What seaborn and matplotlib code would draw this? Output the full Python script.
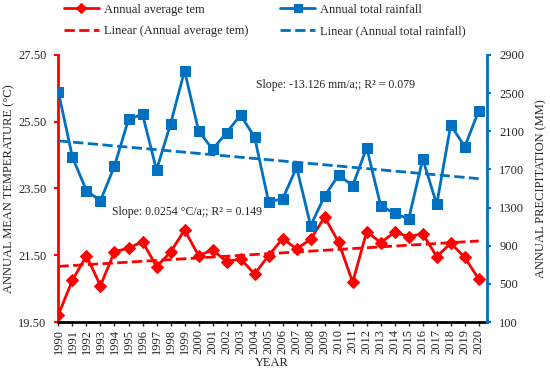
import numpy as np
import pandas as pd
import seaborn as sns
from matplotlib import pyplot as plt

years = list(range(1990, 2021))
temperature = [19.72, 20.76, 21.48, 20.59, 21.61, 21.71, 21.91, 21.16, 21.59, 22.26,
               21.49, 21.66, 21.31, 21.39, 20.94, 21.49, 22.00, 21.69, 21.98, 22.64,
               21.89, 20.69, 22.21, 21.88, 22.19, 22.06, 22.14, 21.46, 21.86, 21.44, 20.78]
rainfall = [2509, 1827, 1477, 1372, 1736, 2225, 2278, 1694, 2176, 2735,
            2106, 1911, 2085, 2271, 2037, 1361, 1390, 1722, 1110, 1421,
            1641, 1529, 1928, 1319, 1239, 1180, 1809, 1334, 2166, 1938, 2316]
temp_ticks = [19.5, 21.5, 23.5, 25.5, 27.5]
rain_ticks = [100, 500, 900, 1300, 1700, 2100, 2500, 2900]
temp_note = "Slope: 0.0254 \u00b0C/a;; R\u00b2 = 0.149"
rain_note = "Slope: -13.126 mm/a;; R\u00b2 = 0.079"

RED = "#FF0000"
BLUE = "#0070C0"

sns.set_style("white")
plt.rcParams["font.family"] = ["Liberation Serif", "DejaVu Serif"]
plt.rcParams["font.size"] = 9

df = pd.DataFrame({"year": years, "temp": temperature, "rain": rainfall})
# linear trends
t_fit = np.polyfit(df["year"], df["temp"], 1)
r_fit = np.polyfit(df["year"], df["rain"], 1)
df["temp_lin"] = np.polyval(t_fit, df["year"])
df["rain_lin"] = np.polyval(r_fit, df["year"])

fig = plt.figure(figsize=(5.5, 3.74), dpi=100)
ax = fig.add_axes([0.105, 0.139, 0.78, 0.714])
ax2 = ax.twinx()

sns.lineplot(data=df, x="year", y="temp", ax=ax, color=RED, marker="D",
             markersize=6, markeredgecolor=RED, linewidth=2,
             label="Annual average tem", legend=False)
sns.lineplot(data=df, x="year", y="temp_lin", ax=ax, color=RED, linestyle="--",
             linewidth=2, label="Linear (Annual average tem)", legend=False)
sns.lineplot(data=df, x="year", y="rain", ax=ax2, color=BLUE, marker="s",
             markersize=7, markeredgecolor=BLUE, linewidth=2,
             label="Annual total rainfall", legend=False)
sns.lineplot(data=df, x="year", y="rain_lin", ax=ax2, color=BLUE, linestyle="--",
             linewidth=2, label="Linear (Annual total rainfall)", legend=False)

ax.set_xlim(1989.95, 2020.57)
ax.set_ylim(19.5, 27.5)
ax2.set_ylim(100, 2900)
ax.set_xticks(years)
ax.set_xticklabels([str(y) for y in years], rotation=90)
ax.set_yticks(temp_ticks)
ax.set_yticklabels([f"{t:.2f}" for t in temp_ticks])
ax2.set_yticks(rain_ticks)

ax.set_xlabel("YEAR", labelpad=2)
ax.set_ylabel("ANNUAL MEAN TEMPERATURE (\u00b0C)", labelpad=2)
ax2.set_ylabel("ANNUAL PRECIPITATION (MM)", labelpad=8)

for a in (ax, ax2):
    a.spines["top"].set_visible(False)
ax.spines["right"].set_visible(False)
ax.spines["left"].set_color(RED)
ax.spines["left"].set_linewidth(2)
ax.spines["bottom"].set_color("black")
ax.spines["bottom"].set_linewidth(2)
ax2.spines["left"].set_visible(False)
ax2.spines["bottom"].set_visible(False)
ax2.spines["right"].set_color(BLUE)
ax2.spines["right"].set_linewidth(2)

ax.tick_params(axis="y", left=True, length=3, width=1.5, color=RED, pad=5)
ax.tick_params(axis="x", bottom=True, length=3, width=1, pad=2)
ax2.tick_params(axis="y", right=True, length=3, width=1.5, color=BLUE, pad=6)

ax2.text(2009.8, 2580, rain_note, ha="center", va="center", fontsize=8.5)
ax.text(1999.2, 22.8, temp_note, ha="center", va="center", fontsize=8.5)

handles = ax.get_lines()[:2] + ax2.get_lines()[:2]
labels = ["Annual average tem", "Linear (Annual average tem)",
          "Annual total rainfall", "Linear (Annual total rainfall)"]
fig.legend(handles, labels, ncol=2, loc="upper left", bbox_to_anchor=(0.095, 1.02),
           frameon=False, fontsize=9, columnspacing=2.6, handlelength=2.8,
           handletextpad=0.4, markerscale=0.8, labelspacing=0.75)

fig.savefig("out.png", dpi=100)
